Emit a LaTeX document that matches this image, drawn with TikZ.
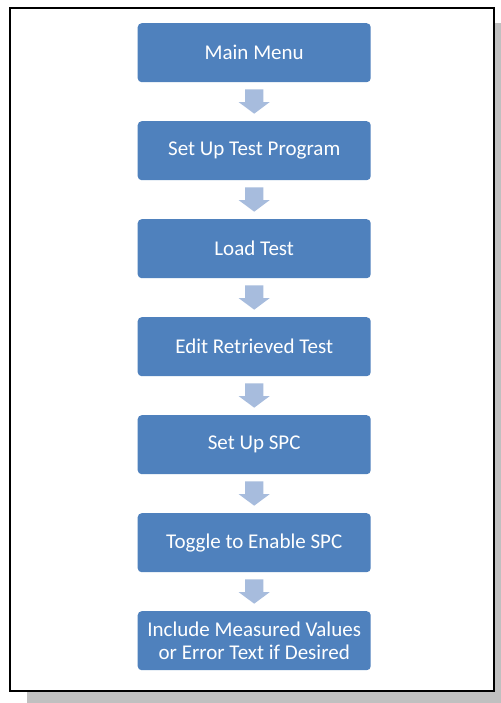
\documentclass[tikz,border=0pt]{standalone}
\usepackage{fontspec}
\setmainfont{Carlito}
\definecolor{boxblue}{HTML}{4F81BD}
\definecolor{arrowblue}{HTML}{A7BCDD}
\definecolor{shadowgray}{HTML}{C0C0C0}
\begin{document}
\begin{tikzpicture}[x=1pt,y=-1pt,
  stepbox/.style={fill=boxblue, rounded corners=4pt, minimum width=233pt, minimum height=59pt,
    text=white, font=\fontsize{21}{22.7}\selectfont, align=center, inner sep=0pt, anchor=north west}]
\useasboundingbox (0,0) rectangle (500,703);
\fill[shadowgray] (27,23) rectangle (505,710);
\filldraw[fill=white, draw=black, line width=2pt] (10,8.5) rectangle (494,691);
\node[stepbox] (b1) at (137.5,23) {Main Menu};
\node[stepbox] (b2) at (137.5,121) {Set Up Test Program};
\node[stepbox] (b3) at (137.5,219) {Load Test};
\node[stepbox] (b4) at (137.5,317) {Edit Retrieved Test};
\node[stepbox] (b5) at (137.5,415) {Set Up SPC};
\node[stepbox] (b6) at (137.5,513) {Toggle to Enable SPC};
\node[stepbox] (b7) at (137.5,611) {Include Measured Values\\or Error Text if Desired};
\foreach \a in {b1,b2,b3,b4,b5,b6}{
  \fill[arrowblue] (\a.south) ++(-9.2,7) -- ++(18.4,0) -- ++(0,12.7) -- ++(6.3,0) -- ++(-15.5,11.6) -- ++(-15.5,-11.6) -- ++(6.3,0) -- cycle;
}
\end{tikzpicture}
\end{document}
